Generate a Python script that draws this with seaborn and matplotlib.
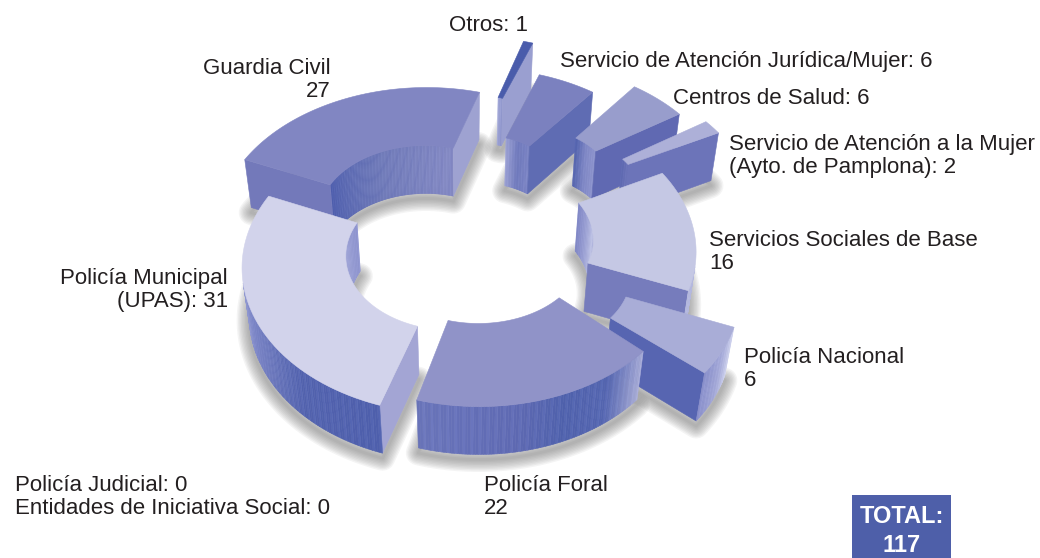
import numpy as np
import matplotlib
matplotlib.use("Agg")
import matplotlib.pyplot as plt
from matplotlib.patches import Polygon, Rectangle
import seaborn as sns

categories = ["Otros", "Servicio de Atención Jurídica/Mujer", "Centros de Salud",
              "Servicio de Atención a la Mujer\n(Ayto. de Pamplona)", "Servicios Sociales de Base",
              "Policía Nacional", "Policía Foral", "Policía Municipal\n(UPAS)", "Guardia Civil"]
values = [1, 6, 6, 2, 16, 6, 22, 31, 27]
label_seps = [": ", ": ", ": ", ": ", "\n", "\n", "\n", ": ", "\n"]
zero_categories = ["Policía Judicial", "Entidades de Iniciativa Social"]
zero_values = [0, 0]
total_label = "TOTAL:\n117"

# label placement, pixels (baseline of the last line)
label_x = [449, 560, 673, 729, 709, 744, 484, 228, 331]
label_y = [31, 67, 104, 173, 269, 386, 514, 307, 97]
label_ha = ["left"] * 7 + ["right", "right"]

# camera
FOCAL = 1454.0
DIST = 6.5
SIN_E, COS_E = 0.695, 0.719
CX, CY = 462.0, 255.0
R_OUT, HEIGHT = 0.94, 0.31
START = 16.6

# how far each slice is pulled out, ground units
offsets = [(0.056, 0.72), (0.08, 0.445), (0.295, 0.49), (0.42, 0.43), (0.115, 0.128),
           (0.285, -0.09), (0.07, 0.06), (-0.04, 0.02), (-0.18, 0.283)]
inner_radii = [0.44, 0.40, 0.42, 0.42, 0.48, 0.46, 0.48, 0.48, 0.48]
# degrees trimmed off both ends of a slice
trims = [0, 0, 0, 0, 0, 0, 2.5, 0, 0]
top_colors = ["#4a5cab", "#7b81bf", "#989dcc", "#adb0d8", "#c5c8e4", "#a9add7", "#9093c8", "#d2d3eb", "#8186c2"]
start_colors = ["#9a9fd0", "#6f79bd", "#6a75ba", "#6f78bc", "#8b90ca", "#b5b9df", "#6570b8", "#a3a5d4", "#7379ba"]
end_colors = ["#9a9fd0", "#5f6cb3", "#6069b2", "#6c74b9", "#767cbc", "#5765b1", "#8c92cc", "#8086c4", "#9ea2d1"]
outer_stops = [["#9a9fd0", "#9a9fd0"], ["#8a91ca", "#8a91ca"], ["#7f87c6", "#7f87c6"], ["#6c74b9", "#6c74b9"],
               ["#b5b9df", "#b5b9df"], ["#d3d6ef", "#a5aad9", "#8a90cc"],
               ["#a8acd7", "#5566b1", "#5062ad", "#5f6ab3", "#6570b8", "#6a75ba"],
               ["#4f60ad", "#5363af", "#7b85c6", "#a4aadb", "#b5b9e2"], ["#7379ba", "#7379ba"]]
inner_stops = [["#a0a6d6", "#8e95cd"], ["#9aa0d4", "#6f79bd", "#7a83c4"], ["#5363ae", "#7f87c6", "#8d94cd"],
               ["#5f6ab2", "#6c74b9"], ["#8087c6", "#c0c4e6", "#8b90ca"], ["#8a90cc", "#8a90cc"],
               ["#6570b8", "#6570b8"], ["#a0a6d8", "#b9bde4", "#8f95cf"], ["#4f5fae", "#6d78b8", "#8287c3"]]
draw_order = [0, 8, 1, 2, 3, 4, 5, 6, 7]


def project(x, y, z):
    w = DIST + y * COS_E - z * SIN_E
    return CX + FOCAL * x / w, CY - FOCAL * (y * SIN_E + z * COS_E) / w


def ring(theta, r, off, z):
    rad = np.radians(theta)
    return off[0] + r * np.sin(rad), off[1] + r * np.cos(rad), np.full_like(rad, z)


def faces_camera(nx, ny, px, py):
    return nx * (0 - px) + ny * (-DIST * COS_E - py) > 0


def add_face(ax, x, y, z, color, zo):
    sx, sy = project(np.asarray(x), np.asarray(y), np.asarray(z))
    ax.add_patch(Polygon(np.c_[sx, sy], closed=True, fc=color, ec=color, lw=0.4, zorder=zo))


def add_wall(ax, theta, r, off, stops, sign, zo):
    cols = sns.blend_palette(stops, n_colors=len(theta) - 1)
    for i in range(len(theta) - 1):
        a = theta[i:i + 2]
        mid = np.radians(a.mean())
        px, py = off[0] + r * np.sin(mid), off[1] + r * np.cos(mid)
        if not faces_camera(sign * np.sin(mid), sign * np.cos(mid), px, py):
            continue
        xt, yt, _ = ring(a, r, off, 0)
        col = np.array(cols[i])
        # thin vertical streaks like the source render
        col = np.clip(col + (0.02 if i % 3 == 0 else -0.006), 0, 1)
        add_face(ax, [xt[0], xt[1], xt[1], xt[0]], [yt[0], yt[1], yt[1], yt[0]],
                 [0, 0, -HEIGHT, -HEIGHT], col, zo)


sns.set_theme(style="white")
plt.rcParams["font.family"] = ["Liberation Sans", "DejaVu Sans"]

fig = plt.figure(figsize=(10.4, 5.58), dpi=100)
ax = fig.add_axes([0, 0, 1, 1])
ax.set_xlim(0, 1040)
ax.set_ylim(558, 0)
ax.axis("off")

edges = START + np.r_[0, np.cumsum(values)] / np.sum(values) * 360

# soft shadows under everything
for i, off in enumerate(offsets):
    theta = np.linspace(edges[i] + trims[i], edges[i + 1] - trims[i], 60)
    ox, oy, oz = ring(theta, R_OUT, off, -HEIGHT)
    ix, iy, iz = ring(theta[::-1], inner_radii[i], off, -HEIGHT)
    sx, sy = project(np.r_[ox, ix], np.r_[oy, iy], np.r_[oz, iz])
    for lw in np.arange(18, 0, -2):
        ax.add_patch(Polygon(np.c_[sx, sy + 5], closed=True, fc="none", ec="#666666", lw=lw,
                             alpha=0.07, joinstyle="round", zorder=1))

for rank, i in enumerate(draw_order):
    off = offsets[i]
    r_in = inner_radii[i]
    a0, a1 = edges[i] + trims[i], edges[i + 1] - trims[i]
    n = max(6, int((a1 - a0) * 1.5))
    theta = np.linspace(a0, a1, n)
    zo = 2 + rank

    add_wall(ax, theta, r_in, off, inner_stops[i], -1, zo)

    for ang, color, sign in [(a0, start_colors[i], -1), (a1, end_colors[i], 1)]:
        rad = np.radians(ang)
        nx, ny = sign * np.cos(rad), -sign * np.sin(rad)
        xs, ys, _ = ring(np.array([ang]), np.array([r_in, R_OUT]), off, 0)
        if faces_camera(nx, ny, xs.mean(), ys.mean()):
            add_face(ax, [xs[0], xs[1], xs[1], xs[0]], [ys[0], ys[1], ys[1], ys[0]],
                     [0, 0, -HEIGHT, -HEIGHT], color, zo)

    add_wall(ax, theta, R_OUT, off, outer_stops[i], 1, zo)

    ox, oy, _ = ring(theta, R_OUT, off, 0)
    ix, iy, _ = ring(theta[::-1], r_in, off, 0)
    add_face(ax, np.r_[ox, ix], np.r_[oy, iy], np.zeros(2 * n), top_colors[i], zo)

text_kw = dict(fontsize=16, color="#231f20", linespacing=1.14, va="baseline", zorder=30)
for name, v, sep, x, y, ha in zip(categories, values, label_seps, label_x, label_y, label_ha):
    ax.text(x, y, f"{name}{sep}{v}", ha=ha, **text_kw)
zero_text = "\n".join(f"{n}: {v}" for n, v in zip(zero_categories, zero_values))
ax.text(15, 514, zero_text, ha="left", **text_kw)

ax.add_patch(Rectangle((852, 495), 99, 63, fc="#4e5fa9", ec="none", zorder=29))
ax.text(901.5, 531, total_label, ha="center", va="center", color="white", fontsize=17,
        fontweight="bold", linespacing=1.3, zorder=30)

fig.savefig("out.png", dpi=100)
